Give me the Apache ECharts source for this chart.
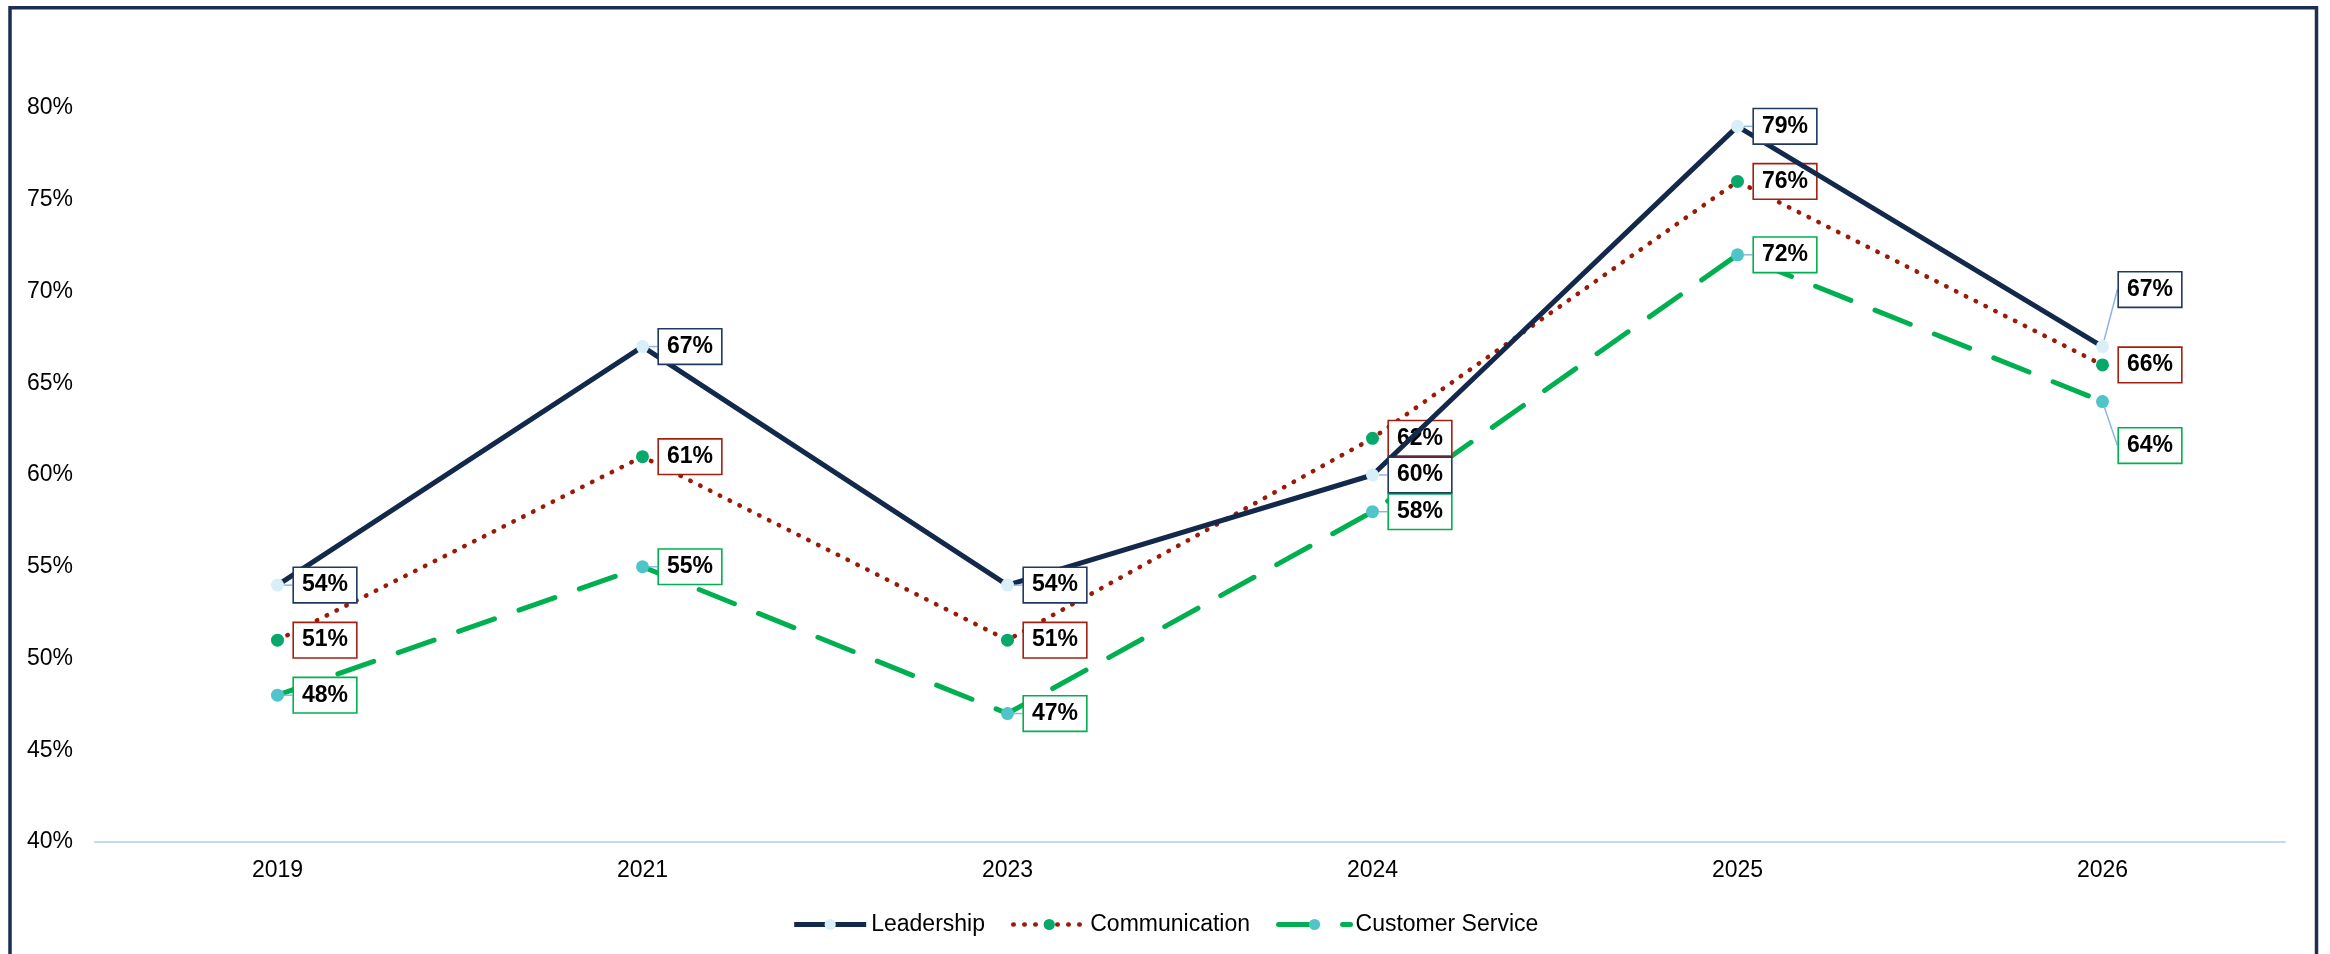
<!DOCTYPE html>
<html>
<head>
<meta charset="utf-8">
<style>
  html, body { margin: 0; padding: 0; background: #ffffff; overflow: hidden; }
  #chart { width: 2330px; height: 954px; }
</style>
<script src="https://cdn.jsdelivr.net/npm/echarts@6/dist/echarts.min.js"></script>
</head>
<body>
<div id="chart"></div>
<script>
// Survey years on the x axis
const years = ['2019', '2021', '2023', '2024', '2025', '2026'];

// Share of positive responses per area (percent)
const leadership = [54, 67, 54, 60, 79, 67];
const communication = [51, 61, 51, 62, 76, 66];
const customerService = [48, 55, 47, 58, 72, 64];

// Y axis range and step (percent)
const yMin = 40;
const yMax = 80;
const yStep = 5;

const FONT = '"Liberation Sans", Arial, sans-serif';

const NAVY = '#13294b';
const RED = '#9a1a08';
const GREEN = '#00b050';

const leadershipLine = { color: NAVY, width: 5 };
const communicationLine = { color: RED, width: 4.5, type: [0.5, 10.5], cap: 'round' };
const serviceLine = { color: GREEN, width: 5, type: [38, 26], cap: 'round' };

function boxLabel(borderColor) {
  return {
    show: true,
    position: 'right',
    distance: 10,
    formatter: p => p.value + '%',
    fontFamily: FONT,
    fontSize: 23,
    fontWeight: 'bold',
    color: '#000000',
    backgroundColor: '#ffffff',
    borderColor: borderColor,
    borderWidth: 1.6,
    padding: [6, 8, 5, 8]
  };
}

// Moves the last label of a series up or down, with a leader line back to its point
function shiftLast(dy) {
  return function (params) {
    if (params.dataIndex === years.length - 1) {
      return { dy: dy };
    }
    return {};
  };
}

const leaderLine = {
  show: true,
  lineStyle: { color: '#8fb4e8', width: 1.5 }
};

const chart = echarts.init(document.getElementById('chart'), null, { renderer: 'canvas' });

chart.setOption({
  animation: false,
  backgroundColor: '#ffffff',
  textStyle: { fontFamily: FONT },
  graphic: [{
    type: 'rect',
    silent: true,
    z: 100,
    shape: { x: 10, y: 7.7, width: 2306.5, height: 1000 },
    style: { fill: 'none', stroke: '#1b2f52', lineWidth: 3.5 }
  }],
  grid: { left: 95, right: 45, top: 108, bottom: 112, containLabel: false },
  legend: {
    top: 908,
    left: 'center',
    itemWidth: 72,
    itemHeight: 14,
    itemGap: 26,
    textStyle: { fontFamily: FONT, fontSize: 23, color: '#000000' },
    data: [
      { name: 'Leadership', lineStyle: leadershipLine },
      { name: 'Communication', lineStyle: communicationLine },
      { name: 'Customer Service', lineStyle: serviceLine }
    ]
  },
  xAxis: {
    type: 'category',
    data: years,
    boundaryGap: true,
    axisLine: { show: true, lineStyle: { color: '#c6d6ef', width: 2 } },
    axisTick: { show: false },
    axisLabel: { fontFamily: FONT, fontSize: 23, color: '#000000', margin: 17 },
    splitLine: { show: false }
  },
  yAxis: {
    type: 'value',
    min: yMin,
    max: yMax,
    interval: yStep,
    axisLine: { show: false },
    axisTick: { show: false },
    splitLine: { show: false },
    axisLabel: {
      fontFamily: FONT,
      fontSize: 23,
      color: '#000000',
      margin: 22,
      formatter: v => v + '%'
    }
  },
  series: [
    {
      name: 'Leadership',
      type: 'line',
      data: leadership,
      z: 3,
      symbol: 'circle',
      symbolSize: 13,
      itemStyle: { color: '#d8eff8' },
      lineStyle: leadershipLine,
      label: boxLabel('#1f3864'),
      labelLayout: shiftLast(-57),
      labelLine: leaderLine
    },
    {
      name: 'Communication',
      type: 'line',
      data: communication,
      z: 2,
      symbol: 'circle',
      symbolSize: 13,
      itemStyle: { color: '#07a86a' },
      lineStyle: communicationLine,
      label: boxLabel('#a3200f')
    },
    {
      name: 'Customer Service',
      type: 'line',
      data: customerService,
      z: 1,
      symbol: 'circle',
      symbolSize: 13,
      itemStyle: { color: '#4fc4c9' },
      lineStyle: serviceLine,
      label: boxLabel(GREEN),
      labelLayout: shiftLast(44),
      labelLine: leaderLine
    }
  ]
});
</script>
</body>
</html>
